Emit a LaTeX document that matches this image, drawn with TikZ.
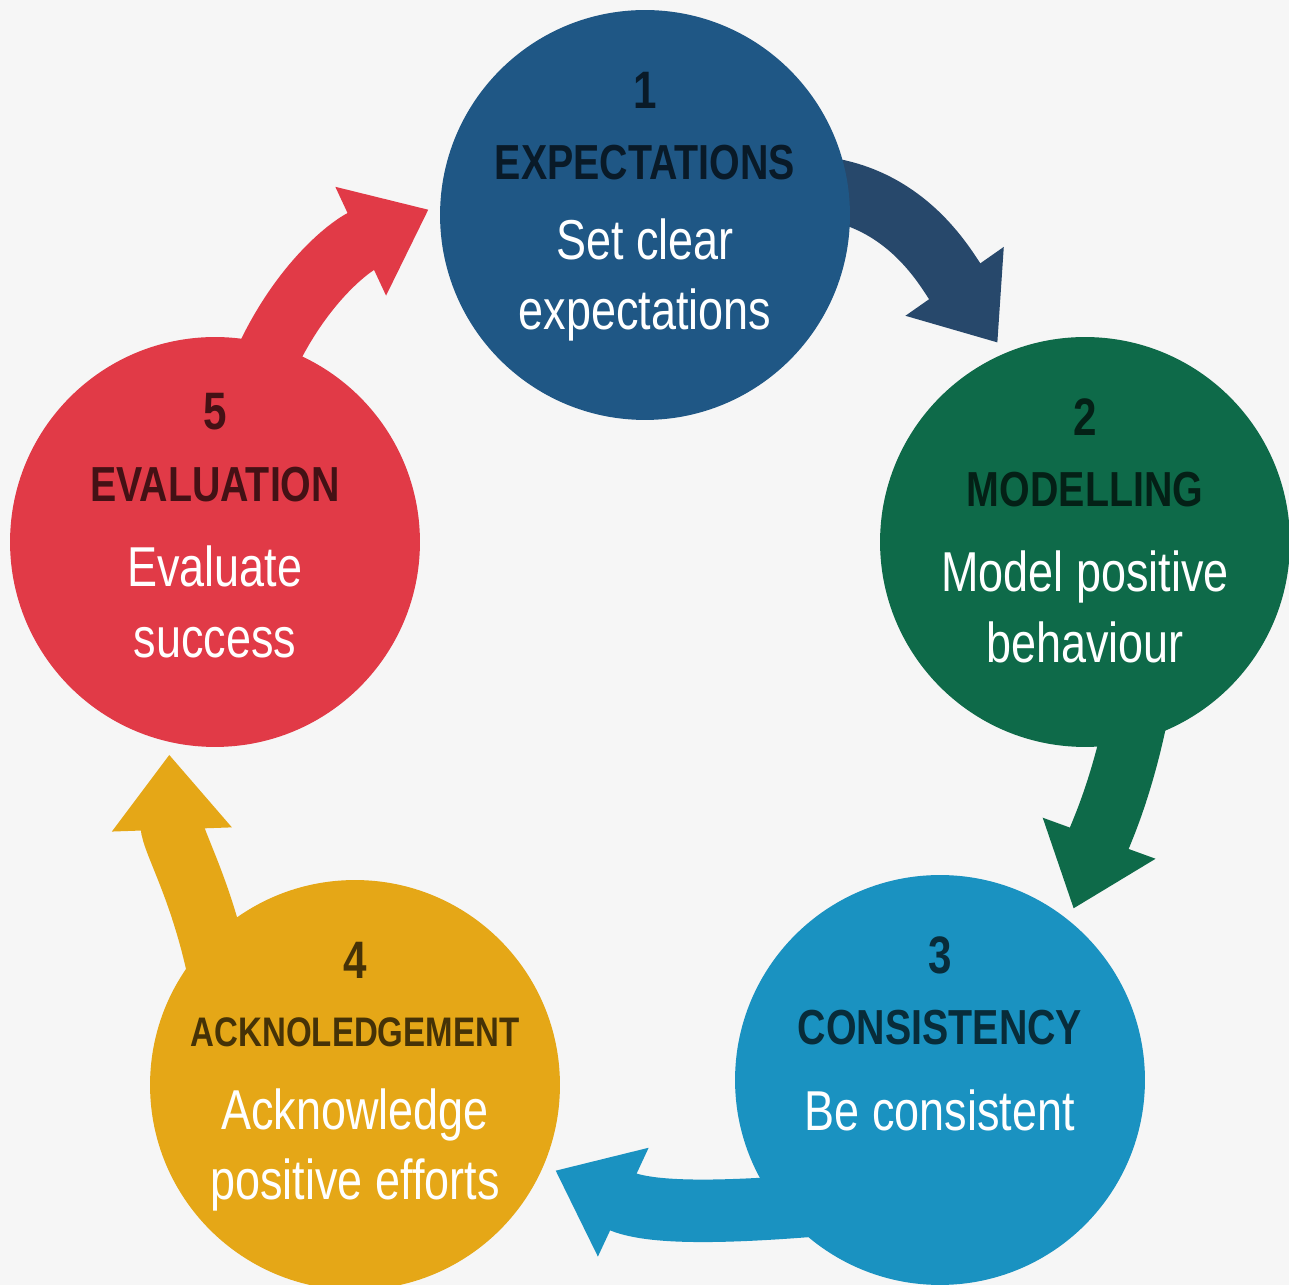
\documentclass[tikz,border=0pt]{standalone}
\usepackage{fontspec}
\setmainfont{Liberation Sans}
\newfontfamily\narrowsans[FakeStretch=0.8]{Liberation Sans}
\usetikzlibrary{arrows.meta,backgrounds}

\definecolor{expblue}{HTML}{1F5785}
\definecolor{exparrow}{HTML}{27486B}
\definecolor{modgreen}{HTML}{0E6A49}
\definecolor{conblue}{HTML}{1A92C1}
\definecolor{ackgold}{HTML}{E5A717}
\definecolor{evalred}{HTML}{E13A47}
\definecolor{paper}{HTML}{F6F6F6}

\begin{document}
\begin{tikzpicture}[x=0.02cm, y=0.02cm,
	stage/.style={circle, minimum size=8.2cm, inner sep=0pt, fill=#1},
	num/.style={font=\narrowsans\bfseries\fontsize{30}{30}\selectfont, text=#1!30!black},
	head/.style={font=\narrowsans\bfseries\fontsize{28}{28}\selectfont, text=#1!30!black},
	body/.style={font=\narrowsans\fontsize{32}{40}\selectfont, text=white, align=center},
	turn/.style={line width=1.25cm, draw=#1, shorten >=0.25cm,
		-{Triangle[width=2.3cm, length=1.5cm]}}]
	
	\useasboundingbox (0,0) rectangle (1289,1285);
	
	\node[stage=expblue]  (c1) at (645,1070) {};
	\node[stage=modgreen] (c2) at (1085,743) {};
	\node[stage=conblue]  (c3) at (940,205) {};
	\node[stage=ackgold]  (c4) at (355,200) {};
	\node[stage=evalred]  (c5) at (215,743) {};
	
	\node[num=expblue]  (n1) at ([yshift=2.5cm]c1.center) {1};
	\node[head=expblue] (h1) at ([yshift=1.05cm]c1.center) {EXPECTATIONS};
	\node[body]         (b1) at ([yshift=-1.3cm]c1.center) {Set clear\\expectations};
	
	\node[num=modgreen]  (n2) at ([yshift=2.5cm]c2.center) {2};
	\node[head=modgreen] (h2) at ([yshift=1.05cm]c2.center) {MODELLING};
	\node[body]          (b2) at ([yshift=-1.3cm]c2.center) {Model positive\\behaviour};
	
	\node[num=conblue]  (n3) at ([yshift=2.5cm]c3.center) {3};
	\node[head=conblue] (h3) at ([yshift=1.05cm]c3.center) {CONSISTENCY};
	\node[body]         (b3) at ([yshift=-0.6cm]c3.center) {Be consistent};
	
	\node[num=ackgold]  (n4) at ([yshift=2.5cm]c4.center) {4};
	\node[head=ackgold, font=\narrowsans\bfseries\fontsize{23.5}{24}\selectfont]
		(h4) at ([yshift=1.05cm]c4.center) {ACKNOLEDGEMENT};
	\node[body]         (b4) at ([yshift=-1.3cm]c4.center) {Acknowledge\\positive efforts};
	
	\node[num=evalred]  (n5) at ([yshift=2.6cm]c5.center) {5};
	\node[head=evalred] (h5) at ([yshift=1.15cm]c5.center) {EVALUATION};
	\node[body]         (b5) at ([yshift=-1.2cm]c5.center) {Evaluate\\success};
	
	\begin{pgfonlayer}{background}
		\fill[paper] (0,0) rectangle (1289,1285);
		\draw[turn=exparrow] ([xshift=-1cm]c1.8) to[out=0, in=125] (c2.113);
		\draw[turn=modgreen] ([yshift=1cm]c2.-74) to[out=-100, in=70] (c3.51);
		\draw[turn=conblue]  ([xshift=1.2cm]c3.217) to[out=185, in=-25] (c4.-23);
		\draw[turn=ackgold]  ([shift={(0.5cm,-0.8cm)}]c4.140) to[out=100, in=-88] (c5.-103);
		\draw[turn=evalred]  ([shift={(-0.25cm,-1cm)}]c5.76) to[out=70, in=205] (c1.177);
	\end{pgfonlayer}
\end{tikzpicture}
\end{document}
